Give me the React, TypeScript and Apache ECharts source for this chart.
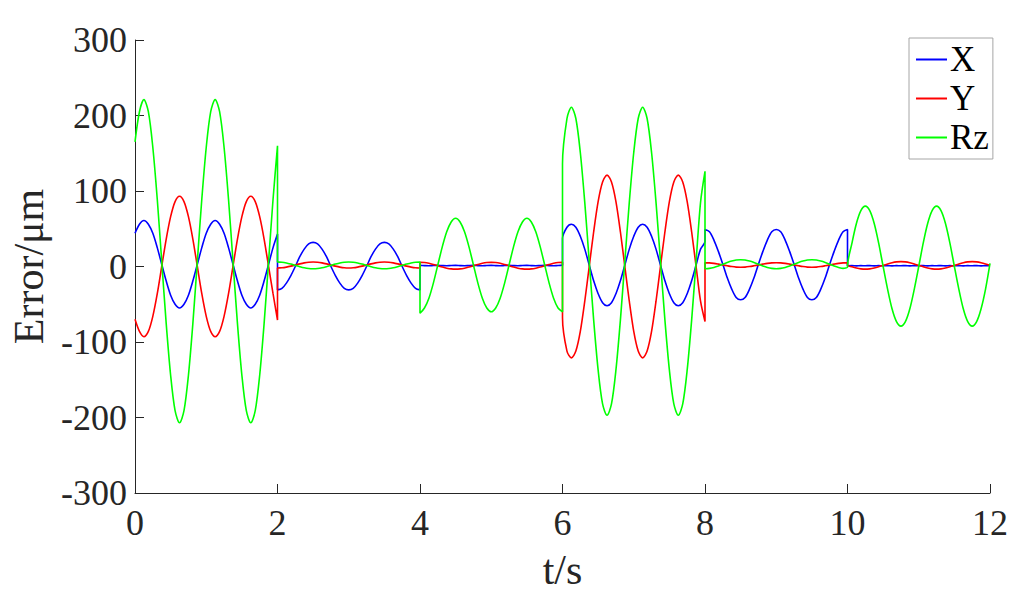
import { useEffect, useRef } from "react";
import * as echarts from "echarts";

const segmentStarts = [0, 2, 4, 6, 8, 10];
const samplesPerSecond = 16;

const xTicks = [0, 2, 4, 6, 8, 10, 12];
const yTicks = [-300, -200, -100, 0, 100, 200, 300];

// X error (µm)
const xSeg0 = [44, 56, 61, 56, 44, 25, 3, -19, -38, -50, -55, -50, -38, -19, 3, 25, 44, 56, 61, 56, 44, 25, 3, -19, -38, -50, -55, -50, -38, -19, 3, 25, 43];
const xSeg1 = [-31, -29, -22, -12, 0, 13, 23, 30, 32, 30, 23, 13, 0, -12, -22, -29, -31, -29, -22, -12, 0, 13, 23, 30, 32, 30, 23, 13, 0, -12, -22, -29, -31];
const xSeg2 = [1.5, 1.2, 1, 1.3, 1.5, 1.2, 1, 1.4, 1.5, 1.2, 1, 1.3, 1.5, 1.2, 1, 1.4, 1.5, 1.2, 1, 1.3, 1.5, 1.2, 1, 1.4, 1.5, 1.2, 1, 1.3, 1.5, 1.2, 1, 1.4, 1.5];
const xSeg3 = [37, 52, 56, 52, 40, 23, 2, -19, -36, -48, -52, -48, -36, -19, 2, 23, 40, 52, 56, 52, 40, 23, 2, -19, -36, -48, -52, -48, -36, -19, 2, 23, 33];
const xSeg4 = [49, 46, 35, 20, 3, -15, -30, -41, -44, -41, -30, -15, 3, 20, 35, 46, 49, 46, 35, 20, 3, -15, -30, -41, -44, -41, -30, -15, 3, 20, 35, 46, 49];
const xSeg5 = [1, 1.2, 0.8, 1.1, 1, 1.2, 0.8, 1.1, 1, 1.2, 0.8, 1.1, 1, 1.2, 0.8, 1.1, 1, 1.2, 0.8, 1.1, 1, 1.2, 0.8, 1.1, 1, 1.2, 0.8, 1.1, 1, 1.2, 0.8, 1.1, 1];

// Y error (µm)
const ySeg0 = [-70, -86, -93, -86, -66, -36, 0, 36, 66, 86, 93, 86, 66, 36, 0, -36, -66, -86, -93, -86, -66, -36, 0, 36, 66, 86, 93, 86, 66, 36, 0, -36, -71];
const ySeg1 = [-2, -1.7, -0.8, 0.5, 2, 3.5, 4.8, 5.7, 6, 5.7, 4.8, 3.5, 2, 0.5, -0.8, -1.7, -2, -1.7, -0.8, 0.5, 2, 3.5, 4.8, 5.7, 6, 5.7, 4.8, 3.5, 2, 0.5, -0.8, -1.7, -2];
const ySeg2 = [5.5, 5.2, 4.2, 2.7, 1, -0.7, -2.2, -3.2, -3.5, -3.2, -2.2, -0.7, 1, 2.7, 4.2, 5.2, 5.5, 5.2, 4.2, 2.7, 1, -0.7, -2.2, -3.2, -3.5, -3.2, -2.2, -0.7, 1, 2.7, 4.2, 5.2, 5.5];
const ySeg3 = [-68, -112, -121, -112, -86, -46, 0, 46, 86, 112, 121, 112, 86, 46, 0, -46, -86, -112, -121, -112, -86, -46, 0, 46, 86, 112, 121, 112, 86, 46, 0, -46, -73];
const ySeg4 = [5, 4.8, 4.1, 3.1, 2, 0.9, -0.1, -0.8, -1, -0.8, -0.1, 0.9, 2, 3.1, 4.1, 4.8, 5, 4.8, 4.1, 3.1, 2, 0.9, -0.1, -0.8, -1, -0.8, -0.1, 0.9, 2, 3.1, 4.1, 4.8, 5];
const ySeg5 = [1.5, -0.4, -2, -3.1, -3.5, -3.1, -2, -0.4, 1.5, 3.4, 5, 6.1, 6.5, 6.1, 5, 3.4, 1.5, -0.4, -2, -3.1, -3.5, -3.1, -2, -0.4, 1.5, 3.4, 5, 6.1, 6.5, 6.1, 5, 3.4, 1.5];

// Rz error (µm)
const rzSeg0 = [165, 205, 221, 205, 158, 89, 7, -75, -144, -191, -207, -191, -144, -75, 7, 89, 158, 205, 221, 205, 158, 89, 7, -75, -144, -191, -207, -191, -144, -75, 7, 89, 160];
const rzSeg1 = [6, 5.7, 4.7, 3.2, 1.5, -0.2, -1.7, -2.7, -3, -2.7, -1.7, -0.2, 1.5, 3.2, 4.7, 5.7, 6, 5.7, 4.7, 3.2, 1.5, -0.2, -1.7, -2.7, -3, -2.7, -1.7, -0.2, 1.5, 3.2, 4.7, 5.7, 6];
const rzSeg2 = [-62, -55, -42, -22, 2, 26, 46, 59, 64, 59, 46, 26, 2, -22, -42, -55, -60, -55, -42, -22, 2, 26, 46, 59, 64, 59, 46, 26, 2, -22, -42, -55, -60];
const rzSeg3 = [136, 196, 211, 196, 151, 85, 7, -71, -137, -182, -197, -182, -137, -71, 7, 85, 151, 196, 211, 196, 151, 85, 7, -71, -137, -182, -197, -182, -137, -71, 7, 85, 126];
const rzSeg4 = [-3, -2.5, -1.2, 0.7, 3, 5.3, 7.2, 8.5, 9, 8.5, 7.2, 5.3, 3, 0.7, -1.2, -2.5, -3, -2.5, -1.2, 0.7, 3, 5.3, 7.2, 8.5, 9, 8.5, 7.2, 5.3, 3, 0.7, -1.2, -2.5, -1];
const rzSeg5 = [0, 31, 57, 74, 80, 74, 57, 31, 0, -30, -56, -73, -79, -73, -56, -30, 0, 31, 57, 74, 80, 74, 57, 31, 0, -30, -56, -73, -79, -73, -56, -30, 4];

const seriesNames = ["X", "Y", "Rz"];
const seriesColors = ["#0000ff", "#ff0000", "#00ff00"];

function buildPoints(segments: number[][]): [number, number][] {
  const pts: [number, number][] = [];
  segments.forEach((vals, s) => {
    vals.forEach((v, k) => {
      pts.push([segmentStarts[s] + k / samplesPerSecond, v]);
    });
  });
  return pts;
}

const FONT = "'Liberation Serif', 'Times New Roman', serif";
const AXIS_COLOR = "#262626";

export default function App() {
  const ref = useRef<HTMLDivElement>(null);

  useEffect(() => {
    if (!ref.current) return;
    const chart = echarts.init(ref.current, undefined, { renderer: "svg" });
    const allData = [
      buildPoints([xSeg0, xSeg1, xSeg2, xSeg3, xSeg4, xSeg5]),
      buildPoints([ySeg0, ySeg1, ySeg2, ySeg3, ySeg4, ySeg5]),
      buildPoints([rzSeg0, rzSeg1, rzSeg2, rzSeg3, rzSeg4, rzSeg5]),
    ];
    chart.setOption({
      animation: false,
      backgroundColor: "#ffffff",
      grid: { left: 135, right: 34, top: 40, bottom: 108, containLabel: false },
      legend: {
        data: seriesNames,
        orient: "vertical",
        left: 909,
        top: 38,
        padding: [4, 4, 4, 7],
        itemGap: 4,
        itemWidth: 31,
        itemHeight: 2,
        icon: "rect",
        borderColor: "#a6a6a6",
        borderWidth: 1,
        backgroundColor: "#ffffff",
        selectedMode: false,
        textStyle: { fontFamily: FONT, fontSize: 35, color: "#000000", padding: [0, 0, 0, -2] },
      },
      xAxis: {
        type: "value",
        min: xTicks[0],
        max: xTicks[xTicks.length - 1],
        interval: xTicks[1] - xTicks[0],
        name: "t/s",
        nameLocation: "middle",
        nameGap: 56,
        nameTextStyle: { fontFamily: FONT, fontSize: 42, color: AXIS_COLOR },
        axisLine: { show: true, onZero: false, lineStyle: { color: AXIS_COLOR, width: 1 } },
        axisTick: { show: true, inside: true, length: 9, lineStyle: { color: AXIS_COLOR, width: 1 } },
        axisLabel: { fontFamily: FONT, fontSize: 36, color: AXIS_COLOR, margin: 12 },
        splitLine: { show: false },
      },
      yAxis: {
        type: "value",
        min: yTicks[0],
        max: yTicks[yTicks.length - 1],
        interval: yTicks[1] - yTicks[0],
        name: "Error/μm",
        nameLocation: "middle",
        nameGap: 74,
        nameTextStyle: { fontFamily: FONT, fontSize: 42, color: AXIS_COLOR },
        axisLine: { show: true, lineStyle: { color: AXIS_COLOR, width: 1 } },
        axisTick: { show: true, inside: true, length: 9, lineStyle: { color: AXIS_COLOR, width: 1 } },
        axisLabel: { fontFamily: FONT, fontSize: 36, color: AXIS_COLOR, margin: 8 },
        splitLine: { show: false },
      },
      series: seriesNames.map((name, i) => ({
        name,
        type: "line",
        data: allData[i],
        showSymbol: false,
        symbol: "none",
        smooth: 0.3,
        color: seriesColors[i],
        lineStyle: { color: seriesColors[i], width: 1.6 },
        emphasis: { disabled: true },
        z: 2 + i,
      })),
    });
    return () => chart.dispose();
  }, []);

  return (
    <div
      ref={ref}
      style={{ position: "absolute", left: 0, top: 0, width: 1024, height: 601, background: "#fff" }}
    />
  );
}
